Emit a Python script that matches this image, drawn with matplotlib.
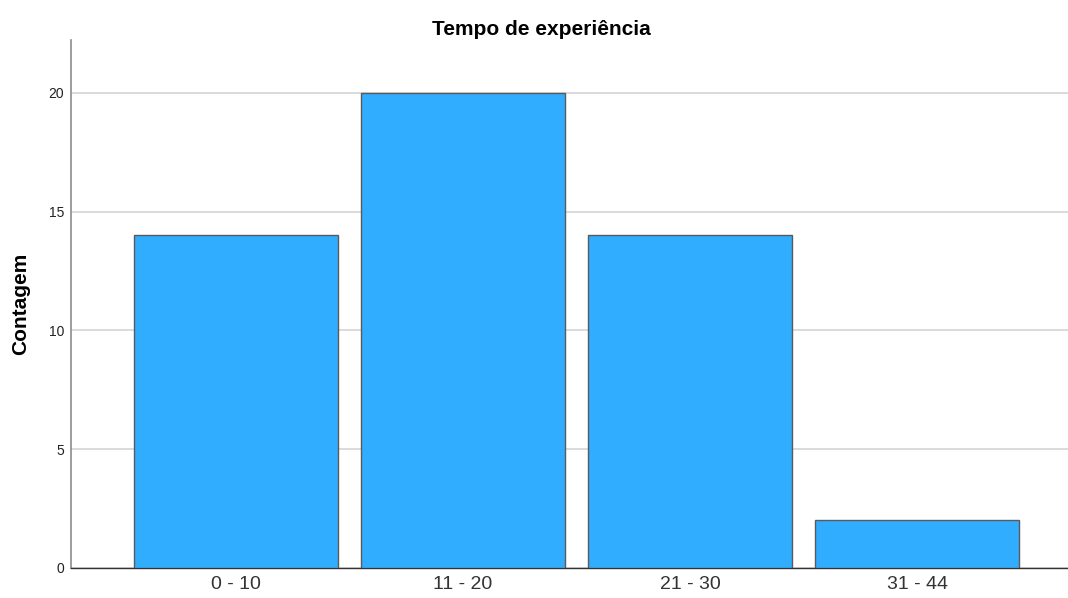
import matplotlib
matplotlib.use("Agg")
import matplotlib.pyplot as plt

categories = ["0 - 10", "11 - 20", "21 - 30", "31 - 44"]
counts = [14, 20, 14, 2]
y_ticks = [0, 5, 10, 15, 20]

plt.rcParams['font.family'] = ['Liberation Sans', 'DejaVu Sans']

fig = plt.figure(figsize=(10.68, 5.98), dpi=100)
ax = fig.add_axes([0.0665, 0.0502, 0.9335, 0.8829])

x = range(len(categories))
ax.bar(x, counts, width=0.9, color="#31adff", edgecolor="#5a5a5a", linewidth=1.0, zorder=3)

ax.set_xlim(-0.727, 3.665)
ax.set_ylim(0, 22.23)
ax.set_yticks(y_ticks)
ax.set_yticklabels([str(v) for v in y_ticks], fontsize=10, color="#222222")
ax.set_xticks(list(x))
ax.set_xticklabels(categories, fontsize=14, color="#333333")
ax.tick_params(axis="y", length=0, pad=5)
ax.tick_params(axis="x", length=0, pad=6)

ax.yaxis.grid(True, color="#d4d4d4", linewidth=1.2, zorder=0)
ax.set_axisbelow(True)

for s in ["top", "right"]:
    ax.spines[s].set_visible(False)
ax.spines["left"].set_color("#8c8c8c")
ax.spines["left"].set_linewidth(1.2)
ax.spines["bottom"].set_color("#333333")
ax.spines["bottom"].set_linewidth(1.0)

ax.set_ylabel("Contagem", fontsize=15, fontweight="bold")
ax.yaxis.set_label_coords(-0.041, 0.5)
fig.text(0.5065, 0.950, "Tempo de experiência", fontsize=15, fontweight="bold", ha="center", va="center")

fig.savefig("out.png", dpi=100, facecolor="white")
